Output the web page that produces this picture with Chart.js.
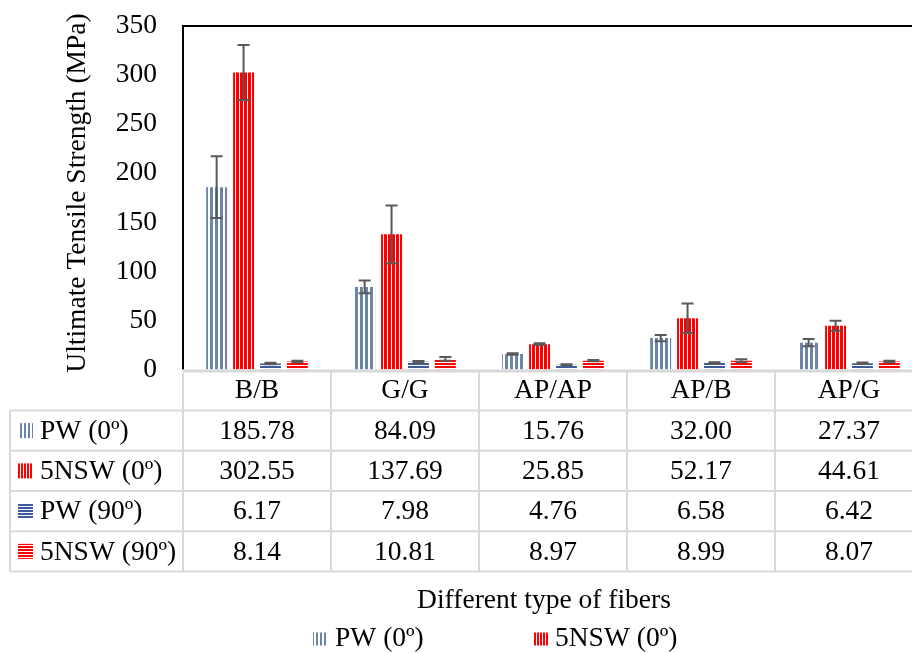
<!DOCTYPE html>
<html><head><meta charset="utf-8">
<script src="https://cdn.jsdelivr.net/npm/chart.js@4.4.0/dist/chart.umd.min.js"></script>
<style>html,body{margin:0;padding:0;overflow:hidden;background:#fff}#wrap{width:925px;height:653px;position:relative}</style>
</head><body><div id="wrap"><canvas id="c"></canvas></div>
<script>
const categories = ['B/B','G/G','AP/AP','AP/B','AP/G'];
const seriesNames = ['PW (0º)','5NSW (0º)','PW (90º)','5NSW (90º)'];
const pw0 = [185.78,84.09,15.76,32.00,27.37];
const nsw0 = [302.55,137.69,25.85,52.17,44.61];
const pw90 = [6.17,7.98,4.76,6.58,6.42];
const nsw90 = [8.14,10.81,8.97,8.99,8.07];
const pw0Err = [31.5,6.5,0.8,3.2,3.7];
const nsw0Err = [28,29.5,0.8,15,5];
const pw90Err = [0.7,0.8,0.5,0.8,0.7];
const nsw90Err = [0.8,1.8,0.6,1.4,0.9];
const yMin = 0, yMax = 350, yStep = 50;
const xTitle = 'Different type of fibers';
const yTitle = 'Ultimate Tensile Strength (MPa)';

const FONT = '"Liberation Serif", "Times New Roman", serif';
const FS = 27.5;

function stripePattern(color, on, off, vertical){
  const c = document.createElement('canvas');
  c.width = vertical ? on+off : 1;
  c.height = vertical ? 1 : on+off;
  const g = c.getContext('2d');
  g.fillStyle = '#fff'; g.fillRect(0,0,c.width,c.height);
  g.fillStyle = color;
  if (vertical) g.fillRect(0,0,on,1); else g.fillRect(0,0,1,on);
  return g.createPattern(c,'repeat');
}
const pats = [
  stripePattern('#6B84A8',3,2,true),
  stripePattern('#FF0000',3,1,true),
  stripePattern('#3B5B9C',2,1,false),
  stripePattern('#FF0000',2,1,false)
];
const swatchPats = [
  stripePattern('#6B84A8',2,2,true),
  stripePattern('#FF0000',2,1,true),
  stripePattern('#3B5B9C',2,1,false),
  stripePattern('#FF0000',2,1,false)
];
const seriesData = [pw0,nsw0,pw90,nsw90];
const seriesErr = [pw0Err,nsw0Err,pw90Err,nsw90Err];

const decor = {
  id:'decor',
  afterDatasetsDraw(chart){
    const ctx = chart.ctx, y = chart.scales.y;
    ctx.save();
    ctx.strokeStyle = '#595959'; ctx.lineWidth = 2;
    chart.data.datasets.forEach((ds,di)=>{
      const meta = chart.getDatasetMeta(di);
      meta.data.forEach((el,i)=>{
        const v = ds.data[i], e = seriesErr[di][i];
        const x = el.x, yt = y.getPixelForValue(v+e), yb = y.getPixelForValue(v-e);
        ctx.beginPath();
        ctx.moveTo(x,yt); ctx.lineTo(x,yb);
        ctx.moveTo(x-6,yt); ctx.lineTo(x+6,yt);
        ctx.moveTo(x-6,yb); ctx.lineTo(x+6,yb);
        ctx.stroke();
      });
    });
    ctx.restore();
  },
  afterDraw(chart){
    const ctx = chart.ctx, a = chart.chartArea, xs = chart.scales.x;
    ctx.save();
    ctx.strokeStyle = '#000'; ctx.lineWidth = 2;
    ctx.beginPath();
    ctx.moveTo(a.left, a.bottom); ctx.lineTo(a.left, a.top); ctx.lineTo(a.right, a.top); ctx.lineTo(a.right, a.bottom);
    ctx.stroke();
    ctx.fillStyle = '#D9D9D9';
    ctx.fillRect(a.left, a.bottom, a.right-a.left, 3);
    const n = categories.length;
    const cw = (a.right-a.left)/n;
    const rowTop = 410.5, rh = 40.25;
    ctx.strokeStyle = '#D9D9D9'; ctx.lineWidth = 2;
    ctx.beginPath();
    for (let r=0;r<=seriesNames.length;r++){
      const yy = rowTop + r*rh;
      ctx.moveTo(10, yy); ctx.lineTo(a.right, yy);
    }
    for (let i=0;i<=n;i++){
      const xx = a.left + i*cw;
      ctx.moveTo(xx, a.bottom+3); ctx.lineTo(xx, rowTop + seriesNames.length*rh);
    }
    ctx.moveTo(10, rowTop); ctx.lineTo(10, rowTop + seriesNames.length*rh);
    ctx.stroke();
    ctx.font = FS+'px '+FONT;
    ctx.fillStyle = '#000';
    ctx.textBaseline = 'middle';
    ctx.textAlign = 'center';
    categories.forEach((c,i)=>{ ctx.fillText(c, xs.getPixelForValue(i), (a.bottom+rowTop)/2+1); });
    seriesNames.forEach((s,r)=>{
      const cy = rowTop + r*rh + rh/2;
      ctx.fillStyle = swatchPats[r]; ctx.fillRect(18, cy-7.5, 15, 15);
      ctx.fillStyle = '#000'; ctx.textAlign = 'left';
      ctx.fillText(s, 40, cy+1);
      ctx.textAlign = 'center';
      seriesData[r].forEach((v,i)=>{ ctx.fillText(v.toFixed(2), xs.getPixelForValue(i), cy+1); });
    });
    ctx.fillText(xTitle, 544, 601);
    ctx.save();
    ctx.translate(78, 193); ctx.rotate(-Math.PI/2);
    ctx.fillText(yTitle, 0, 0);
    ctx.restore();
    const legX = [313, 533];
    seriesNames.forEach((s,r)=>{
      const col = r%2, row = Math.floor(r/2);
      const cy = 639 + row*40;
      ctx.fillStyle = swatchPats[r]; ctx.fillRect(legX[col], cy-6.5, 15, 13);
      ctx.fillStyle = '#000'; ctx.textAlign = 'left';
      ctx.fillText(s, legX[col]+22, cy);
    });
    ctx.restore();
  }
};

new Chart(document.getElementById('c'), {
  type:'bar',
  data:{
    labels:categories,
    datasets: seriesNames.map((s,i)=>({label:s, data:seriesData[i], backgroundColor:pats[i], borderWidth:0,
      categoryPercentage:0.727, barPercentage:0.78}))
  },
  options:{
    responsive:true, maintainAspectRatio:false, animation:false,
    layout:{autoPadding:false, padding:{left:0,right:2,top:26,bottom:653-369.5}},
    plugins:{legend:{display:false}, tooltip:{enabled:false}},
    scales:{
      x:{display:false},
      y:{
        min:yMin, max:yMax,
        ticks:{stepSize:yStep, padding:26, color:'#000', font:{family:FONT, size:FS}},
        grid:{display:false, drawTicks:false},
        border:{display:false},
        afterFit(s){ s.width = 183; s.paddingTop = 0; s.paddingBottom = 0; }
      }
    }
  },
  plugins:[decor]
});
</script></body></html>
